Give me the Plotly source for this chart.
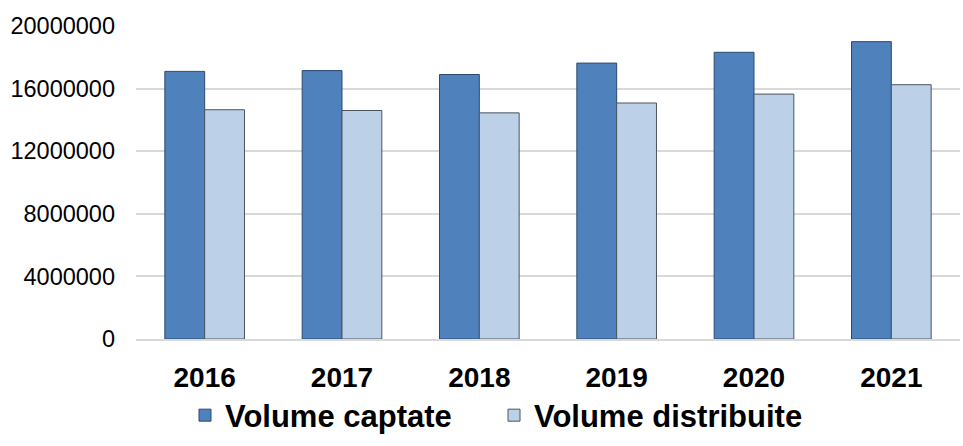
import plotly.graph_objects as go

years = ["2016", "2017", "2018", "2019", "2020", "2021"]
volume_captate = [17100000, 17150000, 16900000, 17630000, 18320000, 19000000]
volume_distribuite = [14650000, 14600000, 14450000, 15080000, 15650000, 16250000]
y_ticks = [0, 4000000, 8000000, 12000000, 16000000, 20000000]

fig = go.Figure()
fig.add_trace(go.Bar(
    x=years, y=volume_captate, name="Volume captate",
    marker=dict(color="#4f81bd", line=dict(color="#2c4a6e", width=1)),
))
fig.add_trace(go.Bar(
    x=years, y=volume_distribuite, name="Volume distribuite",
    marker=dict(color="#bcd0e8", line=dict(color="#4a5560", width=1)),
))

fig.update_layout(
    width=963, height=446,
    margin=dict(l=136, r=3, t=26, b=105),
    paper_bgcolor="white", plot_bgcolor="white",
    barmode="group", bargap=0.42, bargroupgap=0,
    font=dict(family="Liberation Sans, Arial, sans-serif", color="black"),
    showlegend=True,
    legend=dict(
        orientation="h", xref="paper", x=(185 - 136) / 824, xanchor="left",
        yref="paper", y=-(418 - 341) / 315, yanchor="middle",
        font=dict(size=31, family="Liberation Sans, Arial, sans-serif", weight="bold"),
        itemwidth=30, tracegroupgap=0, entrywidth=264, entrywidthmode="pixels",
    ),
)
fig.update_yaxes(
    range=[0, 20000000], tickvals=y_ticks, ticktext=[str(v) for v in y_ticks],
    showgrid=True, gridcolor="#d9d9d9", gridwidth=1.5,
    zeroline=False, showline=False,
    tickfont=dict(size=23.5), ticklabelstandoff=20,
)
fig.update_xaxes(
    showline=True, linecolor="#d9d9d9", linewidth=2,
    tickfont=dict(size=28, weight="bold"), ticks="", ticklabelstandoff=12,
)

fig.write_html("out.html")
